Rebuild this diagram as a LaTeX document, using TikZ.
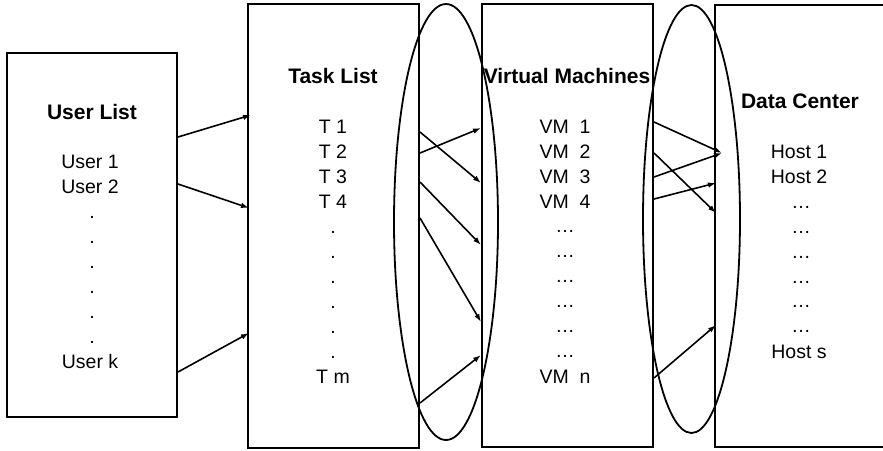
\documentclass[tikz,border=0pt]{standalone}
\usepackage{fontspec}
\setmainfont{Liberation Sans}
\usetikzlibrary{arrows.meta}

\tikzset{
  box/.style={draw,line width=1.8pt,inner sep=0pt},
  item/.style={anchor=base,inner sep=0pt,font=\fontsize{19.5}{25}\selectfont},
  head/.style={anchor=base,inner sep=0pt,font=\fontsize{21}{25}\selectfont\bfseries},
  link/.style={line width=1.6pt,-{Latex[length=8pt,width=5.5pt]}}
}

\begin{document}
\begin{tikzpicture}[x=1pt,y=-1pt]
	\useasboundingbox (0,0) rectangle (883,450);
	\begin{scope}
		% the four boxes
		\node[box,minimum width=170,minimum height=364] (users) at (92,235) {};
		\node[box,minimum width=171,minimum height=444] (tasks) at (333.5,226) {};
		\node[box,minimum width=171,minimum height=443] (vms) at (567.5,225.5) {};
		\node[box,minimum width=170,minimum height=442] (center) at (800,226) {};
		% groups between the boxes
		\draw[line width=1.8pt] (446,222) ellipse [x radius=52,y radius=218];
		\draw[line width=1.8pt] (691.5,219) ellipse [x radius=48.5,y radius=214];

		% user list
		\node[head] (usertitle) at (92,119) {User List};
		\node[item] (user1) at (90,168) {User 1};
		\node[item] (user2) at (90,193) {User 2};
		\foreach \y [count=\k] in {218,243,268,293,318,343}
			\node[item] (userdot\k) at (92,\y) {.};
		\node[item] (userk) at (90,368) {User k};

		% task list
		\node[head] (tasktitle) at (333,83) {Task List};
		\foreach \i/\y in {1/133,2/158,3/183,4/208}
			\node[item] (task\i) at (333,\y) {T \i};
		\foreach \y [count=\k] in {233,258,283,308,333,358}
			\node[item] (taskdot\k) at (333,\y) {.};
		\node[item] (taskm) at (333,383) {T m};

		% virtual machines
		\node[head] (vmtitle) at (567,83) {Virtual Machines};
		\foreach \i/\y in {1/133,2/158,3/183,4/208}
			\node[item] (vm\i) at (565,\y) {VM\ \ \i};
		\foreach \y [count=\k] in {232,257,282,307,332,357}
			\node[item] (vmdot\k) at (565,\y) {\char"2026};
		\node[item] (vmn) at (565,383) {VM\ \ n};

		% data center
		\node[head] (hosttitle) at (800,108) {Data Center};
		\node[item] (host1) at (799,158) {Host 1};
		\node[item] (host2) at (799,183) {Host 2};
		\foreach \y [count=\k] in {208,233,258,283,307,332}
			\node[item] (hostdot\k) at (801,\y) {\char"2026};
		\node[item] (hostlast) at (799,358) {Host s};

		% arrow ends
		\coordinate (ua) at (178,137);
		\coordinate (ub) at (178,184);
		\coordinate (uc) at (178,372);
		\coordinate (ta) at (251,115);
		\coordinate (tb) at (249,208);
		\coordinate (tc) at (249,333);

		\coordinate (tout1) at (420,132);
		\coordinate (tout2) at (420,153);
		\coordinate (tout3) at (420,182);
		\coordinate (tout4) at (420,218);
		\coordinate (tout5) at (420,403);
		\coordinate (vin1) at (481,183);
		\coordinate (vin2) at (481,128);
		\coordinate (vin3) at (481,245);
		\coordinate (vin4) at (481,322);
		\coordinate (vin5) at (481,355);

		\coordinate (vout1) at (654,122);
		\coordinate (vout2) at (654,177);
		\coordinate (vout3) at (654,153);
		\coordinate (vout4) at (654,199);
		\coordinate (vout5) at (654,378);
		\coordinate (hin1) at (722,153);
		\coordinate (hin2) at (722,153);
		\coordinate (hin3) at (716,213);
		\coordinate (hin4) at (716,183);
		\coordinate (hin5) at (716,325);

		\draw[link] (ua) -- (ta);
		\draw[link] (ub) -- (tb);
		\draw[link] (uc) -- (tc);
		\foreach \n in {1,...,5} {
			\draw[link] (tout\n) -- (vin\n);
			\draw[link] (vout\n) -- (hin\n);
		}
	\end{scope}
\end{tikzpicture}
\end{document}
